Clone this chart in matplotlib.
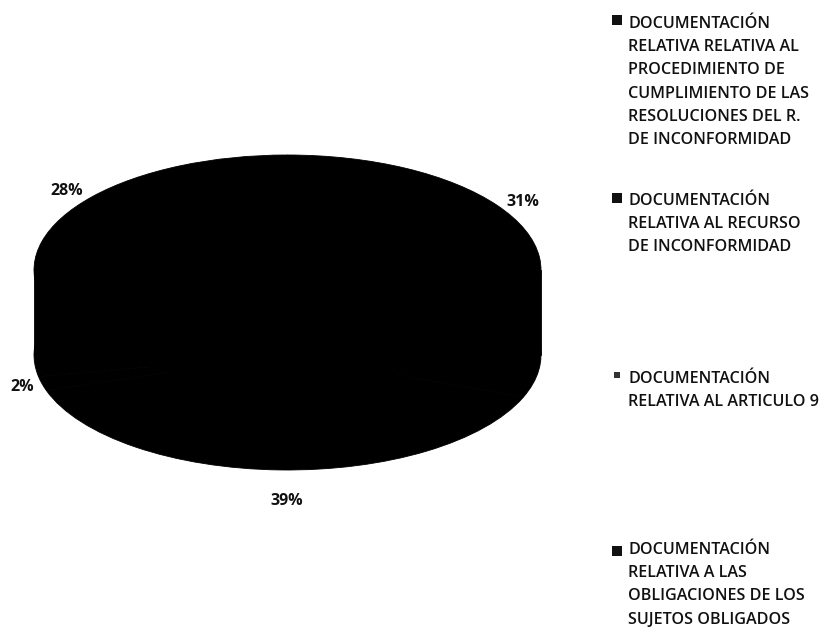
import matplotlib
matplotlib.use("Agg")
import matplotlib.pyplot as plt

plt.rcParams['font.family'] = ['Open Sans', 'Noto Sans', 'DejaVu Sans']

values = [31, 39, 2, 28]
pct_labels = ['31%', '39%', '2%', '28%']
legend_labels = [
    "DOCUMENTACIÓN\nRELATIVA RELATIVA AL\nPROCEDIMIENTO DE\nCUMPLIMIENTO DE LAS\nRESOLUCIONES DEL R.\nDE INCONFORMIDAD",
    "DOCUMENTACIÓN\nRELATIVA AL RECURSO\nDE INCONFORMIDAD",
    "DOCUMENTACIÓN\nRELATIVA AL ARTICULO 9",
    "DOCUMENTACIÓN\nRELATIVA A LAS\nOBLIGACIONES DE LOS\nSUJETOS OBLIGADOS",
]

W, H = 821, 629
fig = plt.figure(figsize=(W / 100, H / 100), dpi=100, facecolor='white')

# overlay in pixel coordinates for text and legend keys
over = fig.add_axes([0, 0, 1, 1], zorder=2)
over.set_xlim(0, W)
over.set_ylim(H, 0)
over.axis('off')
over.patch.set_alpha(0)

# pie axes: unit = radius of the top ellipse in each direction
left, right, top, bottom = 34, 541, 155, 470
semi_h = 115
depth = (bottom - top - 2 * semi_h) / semi_h
ax = fig.add_axes([left / W, 1 - bottom / H, (right - left) / W, (bottom - top) / H], zorder=1)
for cy in (-depth, 0):
    ax.pie(values, center=(0, cy), radius=1, startangle=90, counterclock=False,
           colors=['black'] * len(values),
           wedgeprops=dict(linewidth=0.6, edgecolor='black', clip_on=False))
ax.bar(0, depth, width=2, bottom=-depth, color='black', edgecolor='black', linewidth=0.6, clip_on=False)
ax.set_aspect('auto')
ax.set_xlim(-1, 1)
ax.set_ylim(-1 - depth, 1)
ax.axis('off')

label_pos = [(523, 202), (287, 501), (22, 387), (67, 191)]
for t, (x, y) in zip(pct_labels, label_pos):
    over.text(x, y, t, ha='center', va='center', fontsize=11.5, fontweight='bold', color='#111111')

legend_y = [16, 193, 371, 542]
key_y = [20, 198, 375, 551]
key_size = [42, 42, 22, 42]
key_color = ['#111111', '#111111', '#333333', '#111111']
for t, y, ky, s, c in zip(legend_labels, legend_y, key_y, key_size, key_color):
    over.text(628, y, t, ha='left', va='top', fontsize=11.6, fontweight='semibold',
              color='#111111', linespacing=1.6, clip_on=True)
    over.scatter([616.5], [ky], marker='s', s=s, color=c, linewidths=0)

fig.savefig('out.png', dpi=100, facecolor='white')
